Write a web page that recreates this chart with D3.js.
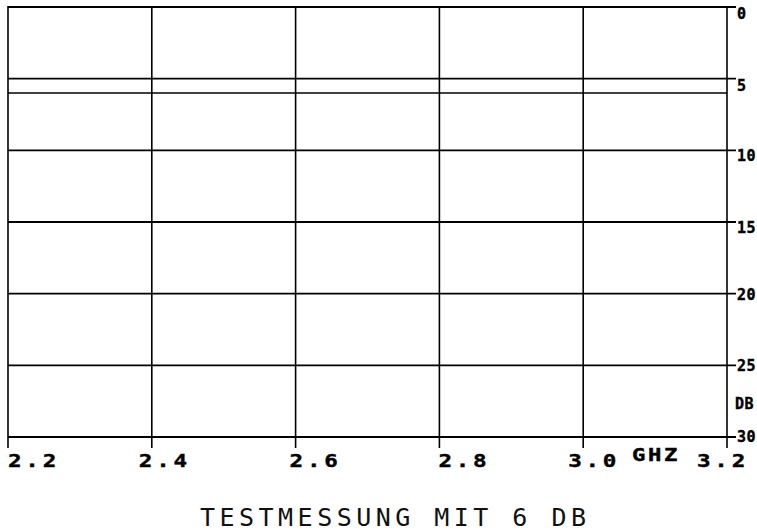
<!DOCTYPE html>
<html>
<head>
<meta charset="utf-8">
<script src="https://cdn.jsdelivr.net/npm/d3@7"></script>
<style>
  html, body { margin: 0; padding: 0; background: #fff; }
  svg { display: block; }
  .tick-num { font-family: "DejaVu Sans Mono", monospace; font-weight: bold; fill: #000; stroke: #000; stroke-width: 0.4; }
  .title { font-family: "DejaVu Sans Mono", monospace; fill: #111; }
</style>
</head>
<body>
<svg id="chart" width="757" height="532"></svg>
<script>
// Frequency axis (GHz) and attenuation axis (dB)
const freqTicks = [2.2, 2.4, 2.6, 2.8, 3.0, 3.2];
const freqLabels = ["2.2", "2.4", "2.6", "2.8", "3.0", "3.2"];
const dbTicks = [0, 5, 10, 15, 20, 25, 30];
const dbLabels = ["0", "5", "10", "15", "20", "25", "30"];

// Measured trace: flat response at 6 dB over the sweep
const traceFreq = [2.2, 2.4, 2.6, 2.8, 3.0, 3.2];
const traceDb = [6.0, 6.0, 6.0, 6.0, 6.0, 6.0];

const titleText = "TESTMESSUNG MIT 6 DB";
const xUnit = "GHZ";
const yUnit = "DB";

// Plotter label placement (pixel nudges of each printed label)
const freqLabelShift = [0, -13, -6, -1, -15, -30];
const dbLabelShift = [7, 7, 6, 6, 1, 1, 0];

const svg = d3.select("#chart");
const plotLeft = 8, plotRight = 727, plotTop = 7, plotBottom = 437;

const x = d3.scaleLinear().domain([2.2, 3.2]).range([plotLeft, plotRight]);
const y = d3.scaleLinear().domain([0, 30]).range([plotTop, plotBottom]);

const ink = "#000";

// Vertical grid lines with ticks below the frame
svg.append("g").selectAll("line").data(freqTicks).join("line")
  .attr("x1", d => x(d)).attr("x2", d => x(d))
  .attr("y1", plotTop - 1).attr("y2", plotBottom + 11)
  .attr("stroke", ink).attr("stroke-width", 1.6);

// Horizontal grid lines with ticks to the right of the frame
svg.append("g").selectAll("line").data(dbTicks).join("line")
  .attr("x1", plotLeft).attr("x2", plotRight + 9)
  .attr("y1", d => y(d)).attr("y2", d => y(d))
  .attr("stroke", ink).attr("stroke-width", 1.9);

// Trace
const line = d3.line().x((d, i) => x(traceFreq[i])).y(d => y(d));
svg.append("path").datum(traceDb)
  .attr("d", line)
  .attr("fill", "none").attr("stroke", ink).attr("stroke-width", 1.6);

// dB tick labels
svg.append("g").selectAll("text").data(dbTicks).join("text")
  .attr("class", "tick-num")
  .attr("x", plotRight + 10)
  .attr("y", (d, i) => y(d) + dbLabelShift[i])
  .attr("dominant-baseline", "central")
  .attr("font-size", 15)
  .attr("letter-spacing", 0.5)
  .text((d, i) => dbLabels[i]);

svg.append("text").attr("class", "tick-num")
  .attr("x", plotRight + 8).attr("y", 404)
  .attr("dominant-baseline", "central")
  .attr("font-size", 15)
  .attr("letter-spacing", 0.5)
  .text(yUnit);

// Frequency tick labels (wide, blocky plotter digits)
svg.append("g").selectAll("text").data(freqTicks).join("text")
  .attr("class", "tick-num")
  .attr("x", (d, i) => x(d) + freqLabelShift[i])
  .attr("y", 467)
  .attr("font-size", 18)
  .attr("textLength", 52)
  .attr("lengthAdjust", "spacingAndGlyphs")
  .attr("letter-spacing", 3)
  .text((d, i) => freqLabels[i]);

svg.append("text").attr("class", "tick-num")
  .attr("x", 632).attr("y", 461)
  .attr("font-size", 17)
  .attr("font-weight", "normal")
  .attr("stroke-width", 0.2)
  .attr("textLength", 48)
  .attr("lengthAdjust", "spacingAndGlyphs")
  .attr("letter-spacing", 2)
  .text(xUnit);

// Title
svg.append("text").attr("class", "title")
  .attr("x", 200).attr("y", 526)
  .attr("font-size", 25)
  .attr("textLength", 386)
  .attr("lengthAdjust", "spacing")
  .text(titleText);
</script>
</body>
</html>
